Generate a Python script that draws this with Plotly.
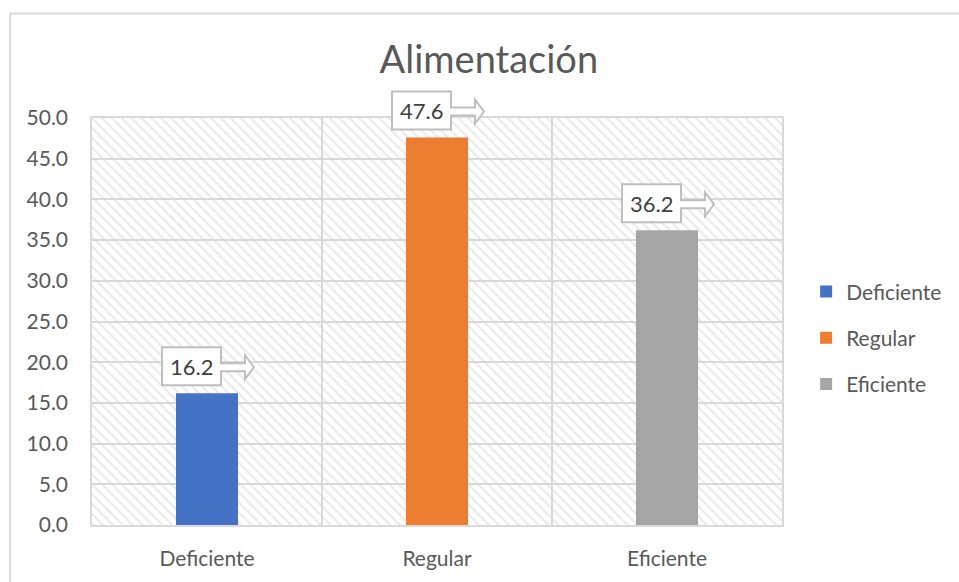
import plotly.graph_objects as go

categories = ["Deficiente", "Regular", "Eficiente"]
values = [16.2, 47.6, 36.2]
colors = ["#4472C4", "#ED7D31", "#A5A5A5"]
title_text = "Alimentación"
y_max = 50
y_step = 5

FONT = "Lato"
TXT = "#595959"
GRID = "#D9D9D9"

fig = go.Figure()

# hatched plot-area background
fig.add_trace(go.Bar(
    x=[categories[1]], y=[y_max], width=len(categories),
    marker=dict(color="rgba(0,0,0,0)", line=dict(width=0),
                pattern=dict(shape="\\", fgcolor="#D6D6D6", bgcolor="rgba(0,0,0,0)",
                             size=7, solidity=0.32)),
    showlegend=False, hoverinfo="skip",
))

for i, (c, v, col) in enumerate(zip(categories, values, colors)):
    fig.add_trace(go.Bar(
        x=[c], y=[v], name=c, width=0.27,
        marker=dict(color=col, line=dict(width=0)),
        legendgroup=c,
    ))

# callout path (pixels relative to bar top centre, y up)
callout = ("M-45,46 L14,46 L14,30 L38,30 L38,38 L47,26 L38,14 L38,22 "
           "L14,22 L14,8 L-45,8 Z")
n = len(categories)
for i, (c, v) in enumerate(zip(categories, values)):
    fig.add_shape(type="path", xref="paper", yref="paper", xsizemode="pixel", ysizemode="pixel",
                  xanchor=(i + 0.5) / n, yanchor=v / y_max, path=callout,
                  fillcolor="white", line=dict(color="#BFBFBF", width=2), layer="above")
    fig.add_annotation(x=c, y=v, text=f"{v:.1f}", showarrow=False,
                       xshift=-15.5, yshift=27, xanchor="center", yanchor="middle",
                       font=dict(family=FONT, size=22, color="#404040"))

# outer chart border
fig.add_shape(type="rect", xref="paper", yref="paper",
              x0=(10 - 92) / 692, x1=1.5, y0=-0.3, y1=(527 - 13) / 409,
              line=dict(color=GRID, width=2), fillcolor="rgba(0,0,0,0)", layer="below")

fig.update_layout(
    width=959, height=582,
    margin=dict(l=92, r=175, t=118, b=55),
    paper_bgcolor="white", plot_bgcolor="white",
    barmode="overlay",
    title=dict(text=title_text, x=(490 - 92) / 692, xref="paper", xanchor="center",
               y=(582 - 60) / 582, yanchor="middle",
               font=dict(family=FONT, size=38, color=TXT)),
    font=dict(family=FONT, color=TXT),
    legend=dict(x=1.035, xanchor="left", y=0.46, yanchor="middle",
                font=dict(family=FONT, size=21, color=TXT),
                tracegroupgap=16, itemwidth=30),
    showlegend=True,
)
fig.update_xaxes(type="category", categoryorder="array", categoryarray=categories,
                 range=[-0.5, len(categories) - 0.5],
                 tickson="boundaries", showgrid=True, gridcolor=GRID, gridwidth=1.5,
                 showline=True, linecolor=GRID, linewidth=1.5, mirror=True,
                 ticks="", ticklabelstandoff=14,
                 tickfont=dict(family=FONT, size=21, color=TXT))
fig.update_yaxes(range=[0, y_max], dtick=y_step, tick0=0, tickformat=".1f",
                 showgrid=True, gridcolor=GRID, gridwidth=1.5,
                 showline=True, linecolor=GRID, linewidth=1.5, mirror=True,
                 zeroline=False, ticks="", ticklabelstandoff=18,
                 tickfont=dict(family=FONT, size=21, color=TXT))

fig.write_html("out.html")
